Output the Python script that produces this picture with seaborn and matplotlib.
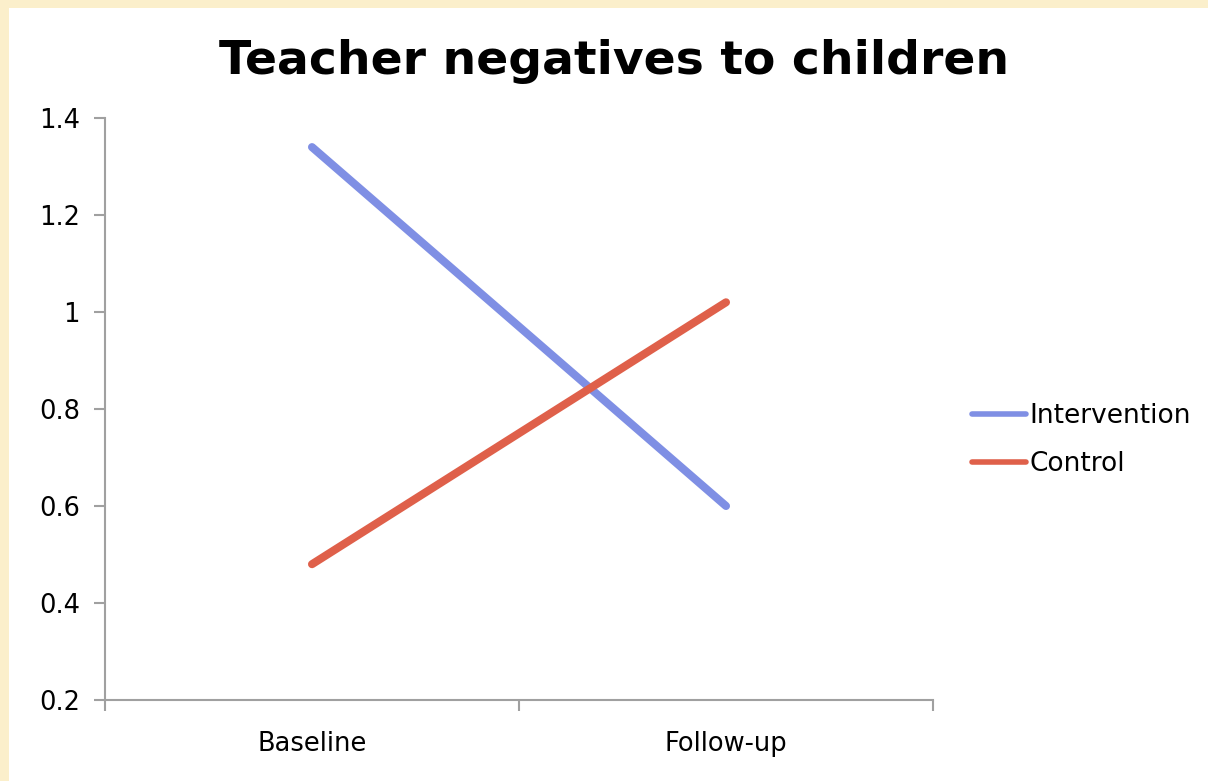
import numpy as np
import pandas as pd
import matplotlib.pyplot as plt
import seaborn as sns
from matplotlib.patches import Rectangle

periods = ['Baseline', 'Follow-up']
groups = ['Intervention', 'Control']
intervention = [1.34, 0.60]
control = [0.48, 1.02]
yticks = [0.2, 0.4, 0.6, 0.8, 1.0, 1.2, 1.4]
ytick_labels = ['0.2', '0.4', '0.6', '0.8', '1', '1.2', '1.4']

df = pd.DataFrame({
    'period': periods * 2,
    'group': [groups[0]] * 2 + [groups[1]] * 2,
    'value': intervention + control,
})

sns.set_style('white')
plt.rcParams['font.family'] = 'sans-serif'
plt.rcParams['font.sans-serif'] = ['DejaVu Sans']
plt.rcParams['text.color'] = 'black'
plt.rcParams['xtick.color'] = 'black'
plt.rcParams['ytick.color'] = 'black'

fig = plt.figure(figsize=(12.08, 7.81), dpi=100, facecolor='#fbefcb')
fig.patches.append(Rectangle((9 / 1208, 0), 1, 1 - 8 / 781, transform=fig.transFigure,
                             facecolor='white', edgecolor='none', zorder=-1))
ax = fig.add_axes([105 / 1208, 1 - 700 / 781, 828 / 1208, 582 / 781])
ax.set_facecolor('none')

pal = {'Intervention': '#7f8fe4', 'Control': '#df604a'}
sns.lineplot(data=df, x='period', y='value', hue='group', palette=pal, sort=False,
             linewidth=5.8, solid_capstyle='round', ax=ax, legend=False)

ax.set_xlim(-0.5, 1.5)
ax.set_ylim(0.2, 1.4)
ax.set_yticks(yticks)
ax.set_yticklabels(ytick_labels, fontsize=18.5)
ax.set_xticks([0, 1])
ax.set_xticklabels(periods, fontsize=18.5)
ax.set_xticks([-0.5, 0.5, 1.5], minor=True)
ax.tick_params(axis='x', which='major', length=0, pad=22, bottom=True)
ax.tick_params(axis='x', which='minor', length=8, color='#a0a0a0', width=1.5,
               direction='out', bottom=True)
ax.tick_params(axis='y', length=8, color='#a0a0a0', labelcolor='black', width=1.5,
               direction='out', left=True, pad=10)
ax.set_xlabel('')
ax.set_ylabel('')
for s in ['top', 'right']:
    ax.spines[s].set_visible(False)
for s in ['left', 'bottom']:
    ax.spines[s].set_color('#a0a0a0')
    ax.spines[s].set_linewidth(1.5)

fig.text(614 / 1208, 1 - 61 / 781, 'Teacher negatives to children', ha='center', va='center',
         fontsize=34, fontweight='bold', color='black')

handles = [plt.Line2D([], [], color=pal[g], linewidth=4, solid_capstyle='round') for g in groups]
fig.legend(handles, groups, loc='center left', bbox_to_anchor=(948 / 1208, 1 - 440 / 781),
           frameon=False, fontsize=19, handlelength=2.05, handletextpad=0.15, labelspacing=0.85)

fig.savefig('out.png', dpi=100, facecolor=fig.get_facecolor())
